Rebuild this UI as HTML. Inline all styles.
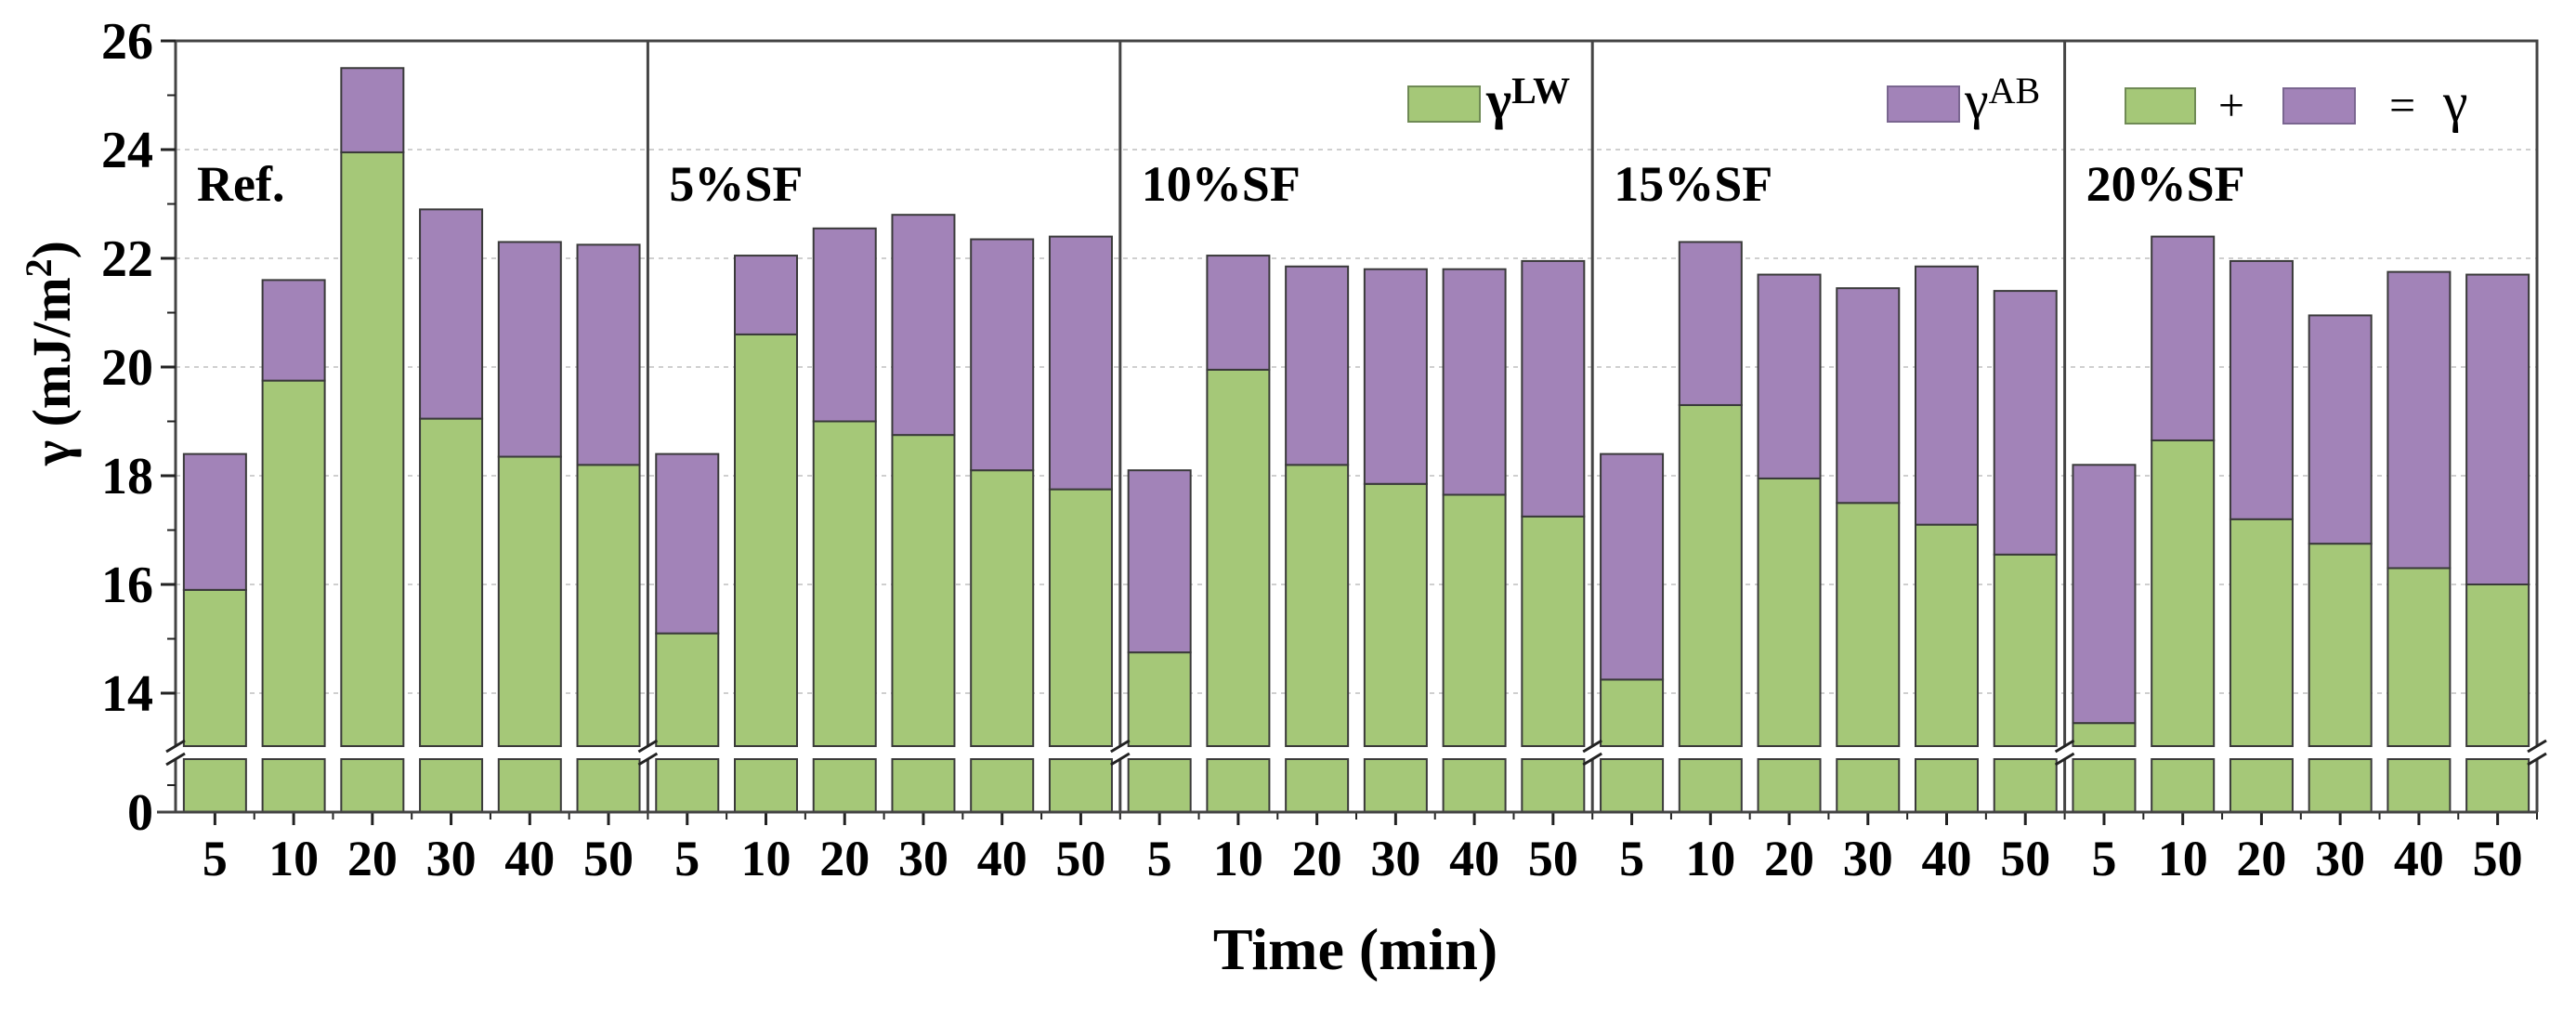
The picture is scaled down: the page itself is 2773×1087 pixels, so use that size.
<!DOCTYPE html>
<html><head><meta charset="utf-8"><style>
html,body{margin:0;padding:0;background:#fff;}
svg{display:block;}
text{font-family:"Liberation Serif",serif;font-weight:bold;fill:#000;}
</style></head><body>
<svg id="chart" width="2773" height="1087" viewBox="0 0 2773 1087" xmlns="http://www.w3.org/2000/svg">
<g id="grid"></g>
<g id="bars"></g>
<g id="axes"></g>
<g id="labels"></g>
<g id="legend">
  <rect x="1516" y="93" width="77" height="38" fill="#a5c878" stroke="#6f8a55" stroke-width="2"/>
  <text x="1600" y="127" font-size="58">γ<tspan font-size="40" dy="-16">LW</tspan></text>
  <rect x="2032" y="93" width="77" height="38" fill="#a283b8" stroke="#7a6690" stroke-width="2"/>
  <text x="2115" y="127" font-size="58" font-weight="normal" style="font-weight:normal">γ<tspan font-size="40" dy="-16">AB</tspan></text>
  <rect x="2288" y="95" width="75" height="38" fill="#a5c878" stroke="#6f8a55" stroke-width="2"/>
  <text x="2402" y="130" font-size="50" text-anchor="middle" style="font-weight:normal">+</text>
  <rect x="2458" y="95" width="77" height="38" fill="#a283b8" stroke="#7a6690" stroke-width="2"/>
  <text x="2572" y="130" font-size="50" style="font-weight:normal">=</text>
  <text x="2630" y="130" font-size="60" style="font-weight:normal">γ</text>
</g>
</svg>
<script>
const groups = ["Ref.", "5%SF", "10%SF", "15%SF", "20%SF"];
const times = ["5", "10", "20", "30", "40", "50"];
const gammaLW = [
  [15.9, 19.75, 23.95, 19.05, 18.35, 18.2],
  [15.1, 20.6, 19.0, 18.75, 18.1, 17.75],
  [14.75, 19.95, 18.2, 17.85, 17.65, 17.25],
  [14.25, 19.3, 17.95, 17.5, 17.1, 16.55],
  [13.45, 18.65, 17.2, 16.75, 16.3, 16.0]
];
const gammaAB = [
  [2.5, 1.85, 1.55, 3.85, 3.95, 4.05],
  [3.3, 1.45, 3.55, 4.05, 4.25, 4.65],
  [3.35, 2.1, 3.65, 3.95, 4.15, 4.7],
  [4.15, 3.0, 3.75, 3.95, 4.75, 4.85],
  [4.75, 3.75, 4.75, 4.2, 5.45, 5.7]
];
const yTicks = [14, 16, 18, 20, 22, 24, 26];
const yMinor = [15, 17, 19, 21, 23, 25];

const NS = "http://www.w3.org/2000/svg";
const L = 189, R = 2731, T = 44, BOT = 874, BRK_TOP = 803, BRK_BOT = 817;
const groupW = (R - L) / groups.length, slotW = groupW / times.length, barW = 67;
function y(v){ return T + (26 - v) * 58.5; }
function xCenter(g, i){ return L + g * groupW + (i + 0.5) * slotW; }
function mk(tag, attrs, parent){ const e = document.createElementNS(NS, tag); for (const k in attrs) e.setAttribute(k, attrs[k]); parent.appendChild(e); return e; }
const grid = document.getElementById('grid'), bars = document.getElementById('bars'), axes = document.getElementById('axes'), labels = document.getElementById('labels');

yTicks.slice(0, -1).forEach(v => {
  const ln = mk('line', {x1: L, x2: R, y1: y(v), y2: y(v), stroke: '#cfcfcf', 'stroke-width': 2, 'stroke-dasharray': '5,5'}, grid);
  
  
});

groups.forEach((g, gi) => {
  times.forEach((t, i) => {
    const cx = xCenter(gi, i), x0 = cx - barW / 2;
    const lw = gammaLW[gi][i], ab = gammaAB[gi][i];
    const gLow = mk('rect', {x: x0, y: BRK_BOT, width: barW, height: BOT - BRK_BOT, fill: '#a5c878', stroke: '#3a3a3a', 'stroke-width': 2}, bars);
    
    
    const gUp = mk('rect', {x: x0, y: y(lw), width: barW, height: BRK_TOP - y(lw), fill: '#a5c878', stroke: '#3a3a3a', 'stroke-width': 2}, bars);
    
    
    const p = mk('rect', {x: x0, y: y(lw + ab), width: barW, height: y(lw) - y(lw + ab), fill: '#a283b8', stroke: '#3a3a3a', 'stroke-width': 2}, bars);
    
    
    const tk = mk('line', {x1: cx, x2: cx, y1: BOT, y2: BOT + 14, stroke: '#222', 'stroke-width': 3}, axes);
    
    
    const mn = mk('line', {x1: cx + slotW / 2, x2: cx + slotW / 2, y1: BOT, y2: BOT + 8, stroke: '#222', 'stroke-width': 2}, axes);
    
    
    const tl = mk('text', {x: cx, y: 942, 'font-size': 54, 'text-anchor': 'middle'}, labels);
    tl.textContent = t;
    
    
  });
  const gl = mk('text', {x: L + gi * groupW + 23, y: 216, 'font-size': 54}, labels);
  gl.textContent = g;
  
  
});

// break band
const band = mk('rect', {x: L - 30, y: BRK_TOP + 1, width: R - L + 40, height: BRK_BOT - BRK_TOP - 2, fill: '#fff'}, axes);



// frame
const frame = mk('path', {d: `M${L},${T} H${R} V${BRK_TOP} M${R},${BRK_BOT} V${BOT} M${L},${T} V${BRK_TOP} M${L},${BRK_BOT} V${BOT} M${L-20},${BOT} H${R}`, stroke: '#444', 'stroke-width': 3, fill: 'none'}, axes);


for (let gi = 1; gi < groups.length; gi++) {
  const dx = L + gi * groupW;
  const dv = mk('path', {d: `M${dx},${T} V${BRK_TOP} M${dx},${BRK_BOT} V${BOT}`, stroke: '#444', 'stroke-width': 3, fill: 'none'}, axes);
  
  
}
for (let gi = 0; gi <= groups.length; gi++) {
  const dx = L + gi * groupW;
  const sl = mk('path', {d: `M${dx-10},${BRK_TOP+6} L${dx+10},${BRK_TOP-6} M${dx-10},${BRK_BOT+6} L${dx+10},${BRK_BOT-6}`, stroke: '#222', 'stroke-width': 3, fill: 'none'}, axes);
  
  
}

yTicks.forEach(v => {
  const tk = mk('line', {x1: L - 16, x2: L, y1: y(v), y2: y(v), stroke: '#222', 'stroke-width': 3}, axes);
  
  
  const tl = mk('text', {x: L - 24, y: y(v) + 19, 'font-size': 56, 'text-anchor': 'end'}, labels);
  tl.textContent = v;
  
  
});
yMinor.forEach(v => {
  const tk = mk('line', {x1: L - 9, x2: L, y1: y(v), y2: y(v), stroke: '#222', 'stroke-width': 2}, axes);
  
  
});
const lm = mk('line', {x1: L - 9, x2: L, y1: 845, y2: 845, stroke: '#222', 'stroke-width': 2}, axes);


const zl = mk('text', {x: L - 24, y: BOT + 19, 'font-size': 56, 'text-anchor': 'end'}, labels);
zl.textContent = '0';



const yt = mk('text', {x: 0, y: 0, 'font-size': 58, 'text-anchor': 'middle', transform: 'translate(75,380) rotate(-90)'}, labels);
yt.innerHTML = 'γ (mJ/m<tspan font-size="40" dy="-20">2</tspan><tspan dy="20">)</tspan>';


const xt = mk('text', {x: 1459, y: 1043, 'font-size': 64, 'text-anchor': 'middle'}, labels);
xt.textContent = 'Time (min)';


</script>
</body></html>
